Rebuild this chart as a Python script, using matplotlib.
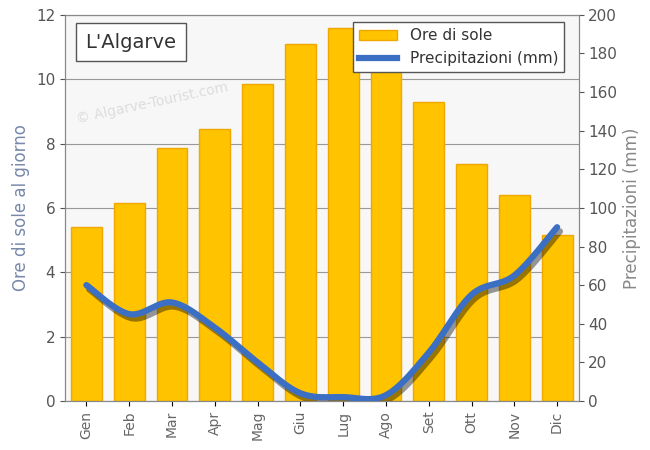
import numpy as np
import matplotlib
matplotlib.use("Agg")
import matplotlib.pyplot as plt
import matplotlib.patheffects as pe

months = ["Gen","Feb","Mar","Apr","Mag","Giu","Lug","Ago","Set","Ott","Nov","Dic"]
sun_hours = [5.4, 6.15, 7.85, 8.45, 9.85, 11.1, 11.6, 10.9, 9.3, 7.35, 6.4, 5.15]
precip_mm = [60, 45, 51, 38, 20, 4, 2, 3, 25, 55, 65, 90]

fig = plt.figure(figsize=(6.5, 4.5), dpi=100)
ax = fig.add_axes([0.1, 0.109, 0.79, 0.858])
ax2 = ax.twinx()
x = np.arange(len(months))

ax.bar(x, sun_hours, width=0.72, color="#FFC300", edgecolor="#F0A800", zorder=2)
ax.set_ylim(0, 12)
ax.set_xlim(-0.5, 11.5)
ax.set_yticks(range(0, 13, 2))
ax.grid(axis="y", color="#999999", lw=0.8, zorder=0)
ax.set_xticks(x)
ax.set_xticklabels(months, rotation=90, color="#666666", fontsize=10)
ax.tick_params(axis="y", colors="#555555", labelsize=11)
ax.set_ylabel("Ore di sole al giorno", color="#7788aa", fontsize=12)
ax.set_facecolor("#f7f7f7")

def smooth(xs, ys, n=20):
    px = np.concatenate([[xs[0]], xs, [xs[-1]]])
    py = np.concatenate([[ys[0]], ys, [ys[-1]]])
    ox, oy = [], []
    for i in range(1, len(px) - 2):
        t = np.linspace(0, 1, n, endpoint=False)
        for p, o in ((px, ox), (py, oy)):
            p0, p1, p2, p3 = p[i-1], p[i], p[i+1], p[i+2]
            o.extend(0.5*((2*p1) + (-p0+p2)*t + (2*p0-5*p1+4*p2-p3)*t**2 + (-p0+3*p1-3*p2+p3)*t**3))
    ox.append(xs[-1]); oy.append(ys[-1])
    return np.array(ox), np.array(oy)

sx, sy = smooth(x.astype(float), np.array(precip_mm, float))
ax2.plot(sx, sy, color="#3a6fc4", lw=4.5, solid_capstyle="round", zorder=5,
         path_effects=[pe.SimpleLineShadow(offset=(2, -3), shadow_color="black", alpha=0.4), pe.Normal()])
ax2.set_ylim(0, 200)
ax2.set_yticks(range(0, 201, 20))
ax2.tick_params(axis="y", colors="#555555", labelsize=11)
ax2.set_ylabel("Precipitazioni (mm)", color="#888888", fontsize=12)

for a in (ax, ax2):
    for s in a.spines.values():
        s.set_color("#888888")

ax.text(0.04, 0.915, "L'Algarve", transform=ax.transAxes, fontsize=14, color="#333333",
        bbox=dict(boxstyle="square,pad=0.5", fc="white", ec="#555555"), zorder=10)
ax.text(0.02, 0.72, "© Algarve-Tourist.com", transform=ax.transAxes, fontsize=10,
        color="#dddddd", rotation=12, zorder=3)

from matplotlib.patches import Patch
from matplotlib.lines import Line2D
handles = [Patch(fc="#FFC300", ec="#F0A800"), Line2D([], [], color="#3a6fc4", lw=4.5)]
leg = ax2.legend(handles, ["Ore di sole", "Precipitazioni (mm)"], loc="upper right",
                 bbox_to_anchor=(0.975, 0.985),
                 fontsize=11, fancybox=False, edgecolor="#555555", framealpha=1,
                 borderaxespad=0.1, labelcolor="#333333", handlelength=2.5)
leg.set_zorder(20)
fig.savefig("out.png")
